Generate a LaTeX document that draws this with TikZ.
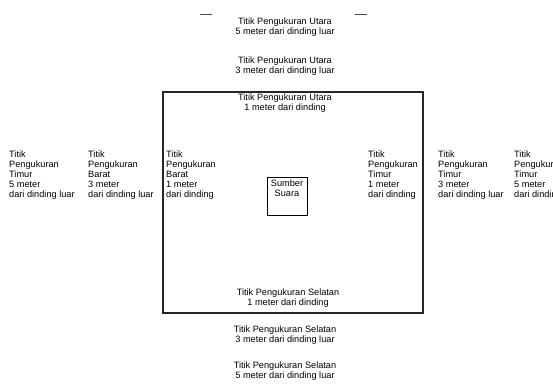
\documentclass[tikz,border=0pt]{standalone}
\usepackage{fontspec}
\setmainfont{Liberation Sans}
\usepackage{tikz}

\begin{document}
\begin{tikzpicture}[x=1pt, y=-1pt,
    label/.style={inner sep=0pt, font=\fontsize{9.2}{10}\selectfont},
    colnote/.style={label, anchor=north west, align=left},
    rownote/.style={label, align=center}]
    % Parameters (pixel grid of the sketch)
    \def\W{553} % width
    \def\H{383} % height
    \def\rowtop{151} % top of the side columns

    % Frame of the picture
    \useasboundingbox (0,0) rectangle (\W,\H);
    \clip (0,0) rectangle (\W,\H);

    % Draw room walls
    \draw[line width=1.3pt, black!85] (163,92) rectangle (423,313);

    % Draw sound source
    \node[draw, line width=0.9pt, minimum width=40pt, minimum height=38pt,
          inner sep=1pt, anchor=north] (sumber) at (287,177) {};
    \node[rownote, anchor=north] (sumbertext) at ([yshift=-2.5pt]sumber.north) {Sumber\\Suara};

    % Small marks at the top
    \draw[black!70, line width=0.7pt] (200,14) -- (212,14);
    \draw[black!70, line width=0.7pt] (355,14) -- (367,14);

    % North measuring points
    \node[rownote] (utara5) at (285,27) {Titik Pengukuran Utara\\5 meter dari dinding luar};
    \node[rownote] (utara3) at (285,66) {Titik Pengukuran Utara\\3 meter dari dinding luar};
    \node[rownote] (utara1) at (285,103) {Titik Pengukuran Utara\\1 meter dari dinding};

    % South measuring points
    \node[rownote] (selatan1) at (288,298) {Titik Pengukuran Selatan\\1 meter dari dinding};
    \node[rownote] (selatan3) at (285,335) {Titik Pengukuran Selatan\\3 meter dari dinding luar};
    \node[rownote] (selatan5) at (285,371) {Titik Pengukuran Selatan\\5 meter dari dinding luar};

    % West side columns
    \node[colnote] (barat5) at (9,\rowtop) {Titik\\Pengukuran\\Timur\\5 meter\\dari dinding luar};
    \node[colnote] (barat3) at (88,\rowtop) {Titik\\Pengukuran\\Barat\\3 meter\\dari dinding luar};
    \node[colnote] (barat1) at (166,\rowtop) {Titik\\Pengukuran\\Barat\\1 meter\\dari dinding};

    % East side columns (the outer one runs off the edge, as in the sketch)
    \node[colnote] (timur1) at (368,\rowtop) {Titik\\Pengukuran\\Timur\\1 meter\\dari dinding};
    \node[colnote] (timur3) at (438,\rowtop) {Titik\\Pengukuran\\Timur\\3 meter\\dari dinding luar};
    \node[colnote] (timur5) at (514,\rowtop) {Titik\\Pengukuran\\Timur\\5 meter\\dari dinding luar};

\end{tikzpicture}
\end{document}
